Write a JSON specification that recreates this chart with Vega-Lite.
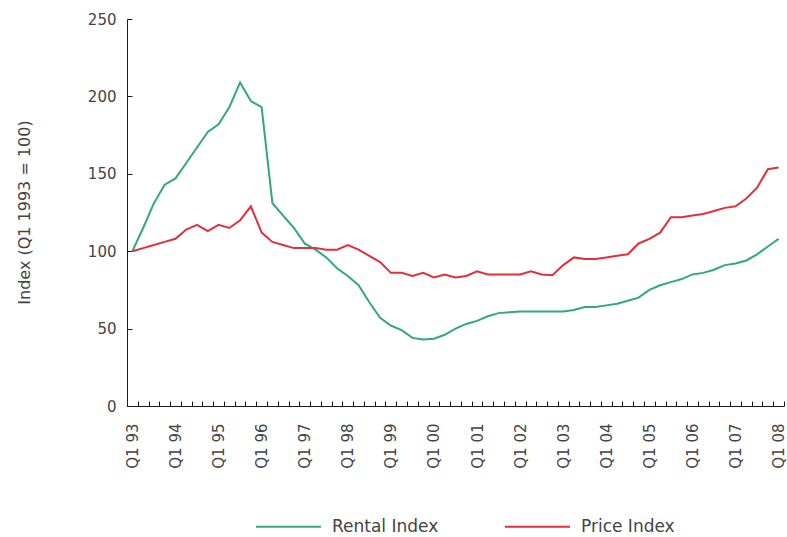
{
  "$schema": "https://vega.github.io/schema/vega-lite/v6.json",
  "width": 657,
  "height": 387,
  "autosize": {"type": "none"},
  "padding": {"left": 127, "top": 19, "right": 3, "bottom": 131},
  "background": "white",
  "config": {
    "view": {"stroke": null},
    "font": "DejaVu Sans",
    "axis": {"grid": false, "domainColor": "#1a1a1a", "tickColor": "#1a1a1a", "labelColor": "#444", "titleColor": "#444", "labelFont": "DejaVu Sans", "titleFont": "DejaVu Sans"}
  },
  "data": {
    "values": [
      {"quarter": "Q1 93", "Rental Index": 100, "Price Index": 100},
      {"quarter": "Q2 93", "Rental Index": 115, "Price Index": 102},
      {"quarter": "Q3 93", "Rental Index": 131, "Price Index": 104},
      {"quarter": "Q4 93", "Rental Index": 143, "Price Index": 106},
      {"quarter": "Q1 94", "Rental Index": 147, "Price Index": 108},
      {"quarter": "Q2 94", "Rental Index": 157, "Price Index": 114},
      {"quarter": "Q3 94", "Rental Index": 167, "Price Index": 117},
      {"quarter": "Q4 94", "Rental Index": 177, "Price Index": 113},
      {"quarter": "Q1 95", "Rental Index": 182, "Price Index": 117},
      {"quarter": "Q2 95", "Rental Index": 193, "Price Index": 115},
      {"quarter": "Q3 95", "Rental Index": 209, "Price Index": 120},
      {"quarter": "Q4 95", "Rental Index": 197, "Price Index": 129},
      {"quarter": "Q1 96", "Rental Index": 193, "Price Index": 112},
      {"quarter": "Q2 96", "Rental Index": 131, "Price Index": 106},
      {"quarter": "Q3 96", "Rental Index": 123, "Price Index": 104},
      {"quarter": "Q4 96", "Rental Index": 115, "Price Index": 102},
      {"quarter": "Q1 97", "Rental Index": 105, "Price Index": 102},
      {"quarter": "Q2 97", "Rental Index": 101, "Price Index": 102},
      {"quarter": "Q3 97", "Rental Index": 96, "Price Index": 101},
      {"quarter": "Q4 97", "Rental Index": 89, "Price Index": 101},
      {"quarter": "Q1 98", "Rental Index": 84, "Price Index": 104},
      {"quarter": "Q2 98", "Rental Index": 78, "Price Index": 101},
      {"quarter": "Q3 98", "Rental Index": 67, "Price Index": 97},
      {"quarter": "Q4 98", "Rental Index": 57, "Price Index": 93},
      {"quarter": "Q1 99", "Rental Index": 52, "Price Index": 86},
      {"quarter": "Q2 99", "Rental Index": 49, "Price Index": 86},
      {"quarter": "Q3 99", "Rental Index": 44, "Price Index": 84},
      {"quarter": "Q4 99", "Rental Index": 43, "Price Index": 86},
      {"quarter": "Q1 00", "Rental Index": 43.5, "Price Index": 83},
      {"quarter": "Q2 00", "Rental Index": 46, "Price Index": 85},
      {"quarter": "Q3 00", "Rental Index": 50, "Price Index": 83},
      {"quarter": "Q4 00", "Rental Index": 53, "Price Index": 84},
      {"quarter": "Q1 01", "Rental Index": 55, "Price Index": 87},
      {"quarter": "Q2 01", "Rental Index": 58, "Price Index": 85},
      {"quarter": "Q3 01", "Rental Index": 60, "Price Index": 85},
      {"quarter": "Q4 01", "Rental Index": 60.5, "Price Index": 85},
      {"quarter": "Q1 02", "Rental Index": 61, "Price Index": 85},
      {"quarter": "Q2 02", "Rental Index": 61, "Price Index": 87},
      {"quarter": "Q3 02", "Rental Index": 61, "Price Index": 85},
      {"quarter": "Q4 02", "Rental Index": 61, "Price Index": 84.5},
      {"quarter": "Q1 03", "Rental Index": 61, "Price Index": 91},
      {"quarter": "Q2 03", "Rental Index": 62, "Price Index": 96},
      {"quarter": "Q3 03", "Rental Index": 64, "Price Index": 95},
      {"quarter": "Q4 03", "Rental Index": 64, "Price Index": 95},
      {"quarter": "Q1 04", "Rental Index": 65, "Price Index": 96},
      {"quarter": "Q2 04", "Rental Index": 66, "Price Index": 97},
      {"quarter": "Q3 04", "Rental Index": 68, "Price Index": 98},
      {"quarter": "Q4 04", "Rental Index": 70, "Price Index": 105},
      {"quarter": "Q1 05", "Rental Index": 75, "Price Index": 108},
      {"quarter": "Q2 05", "Rental Index": 78, "Price Index": 112},
      {"quarter": "Q3 05", "Rental Index": 80, "Price Index": 122},
      {"quarter": "Q4 05", "Rental Index": 82, "Price Index": 122},
      {"quarter": "Q1 06", "Rental Index": 85, "Price Index": 123},
      {"quarter": "Q2 06", "Rental Index": 86, "Price Index": 124},
      {"quarter": "Q3 06", "Rental Index": 88, "Price Index": 126},
      {"quarter": "Q4 06", "Rental Index": 91, "Price Index": 128},
      {"quarter": "Q1 07", "Rental Index": 92, "Price Index": 129},
      {"quarter": "Q2 07", "Rental Index": 94, "Price Index": 134},
      {"quarter": "Q3 07", "Rental Index": 98, "Price Index": 141},
      {"quarter": "Q4 07", "Rental Index": 103, "Price Index": 153},
      {"quarter": "Q1 08", "Rental Index": 108, "Price Index": 154}
    ]
  },
  "transform": [{"fold": ["Rental Index", "Price Index"], "as": ["series", "value"]}],
  "mark": {"type": "line", "strokeWidth": 2},
  "encoding": {
    "x": {
      "field": "quarter",
      "type": "ordinal",
      "sort": null,
      "scale": {"type": "band", "paddingInner": 0, "paddingOuter": 0},
      "axis": {
        "title": null,
        "labelAngle": 270,
        "labelAlign": "right",
        "labelBaseline": "middle",
        "labelOverlap": false,
        "labelFontSize": 15,
        "labelPadding": 22,
        "tickSize": -5,
        "tickBand": "extent",
        "labelExpr": "indexof(datum.label, 'Q1') === 0 ? datum.label : ''"
      }
    },
    "y": {
      "field": "value",
      "type": "quantitative",
      "scale": {"domain": [0, 250], "nice": false},
      "axis": {
        "values": [0, 50, 100, 150, 200, 250],
        "title": "Index (Q1 1993 = 100)",
        "titleFontSize": 16,
        "titleFontWeight": "normal",
        "titleX": -103,
        "titleY": 193,
        "titleAngle": 270,
        "titleAlign": "center",
        "titleBaseline": "middle",
        "labelFontSize": 15,
        "labelPadding": 16,
        "tickSize": -5
      }
    },
    "color": {
      "field": "series",
      "type": "nominal",
      "scale": {"domain": ["Rental Index", "Price Index"], "range": ["#33a87c", "#e0303c"]},
      "legend": {
        "title": null,
        "orient": "none",
        "legendX": 128,
        "legendY": 474,
        "direction": "horizontal",
        "symbolType": "stroke",
        "symbolSize": 4225,
        "symbolStrokeWidth": 2,
        "labelFontSize": 17,
        "labelColor": "#444",
        "labelOffset": 10,
        "columnPadding": 62
      }
    }
  }
}
